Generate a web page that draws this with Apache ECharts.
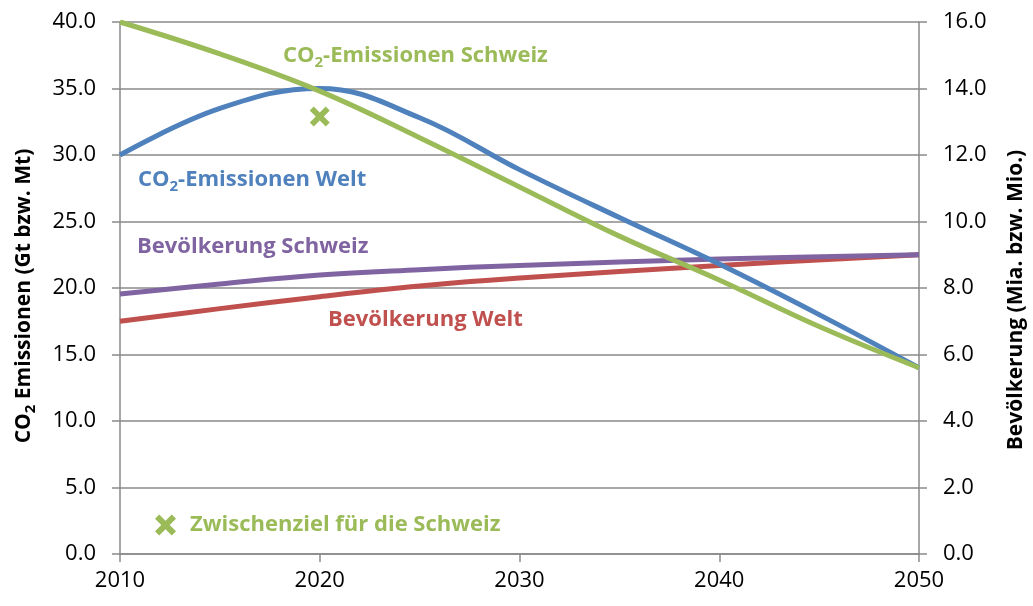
<!DOCTYPE html>
<html>
<head>
<meta charset="utf-8">
<script src="https://cdn.jsdelivr.net/npm/echarts@6/dist/echarts.min.js"></script>
<style>
  html, body { margin: 0; padding: 0; background: #fff; }
  #chart { width: 1033px; height: 606px; }
</style>
</head>
<body>
<div id="chart"></div>
<script>
// CO2 Emissionen (linke Achse)
const co2Welt = [
  [2010, 30.0], [2015, 33.5], [2020, 35.0], [2025, 32.8], [2030, 28.9],
  [2035, 25.3], [2040, 21.8], [2045, 18.0], [2050, 14.0]
]
const co2Schweiz = [
  [2010, 40.0], [2015, 37.6], [2020, 34.8], [2025, 31.3], [2030, 27.6],
  [2035, 23.9], [2040, 20.6], [2045, 17.1], [2050, 14.0]
]
const zwischenziel = [[2020, 32.9]]
// Bevoelkerung (rechte Achse)
const bevSchweiz = [
  [2010, 7.82], [2015, 8.12], [2020, 8.39], [2025, 8.55], [2030, 8.68],
  [2040, 8.87], [2050, 9.0]
]
const bevWelt = [
  [2010, 7.0], [2015, 7.38], [2020, 7.74], [2025, 8.06], [2030, 8.3],
  [2040, 8.68], [2050, 9.0]
]

const GREEN = '#9bbb59'
const BLUE = '#4f81bd'
const RED = '#c0504d'
const PURPLE = '#8064a2'
const GRID = '#8a8a8a'
const FONT = "'Open Sans', sans-serif"
const crossPath = 'path://M2,0 L5,3 L8,0 L10,2 L7,5 L10,8 L8,10 L5,7 L2,10 L0,8 L3,5 L0,2 Z'

const chart = echarts.init(document.getElementById('chart'))

const subRich = (color, size) => ({
  a: { fontFamily: FONT, fontWeight: 'bold', fontSize: size, color },
  s: { fontFamily: FONT, fontWeight: 'bold', fontSize: Math.round(size * 0.7), color, padding: [Math.round(size * 0.6), 0, 0, 0] }
})

const label = (text, x, y, color) => ({
  type: 'text',
  x, y,
  style: { text, fill: color, font: `bold 22px ${FONT}`, verticalAlign: 'middle', rich: subRich(color, 22) }
})

const yAxisCommon = {
  type: 'value',
  axisLine: { show: true, lineStyle: { color: GRID, width: 1.5 } },
  axisTick: { show: true, length: 8, lineStyle: { color: GRID, width: 1.5 } },
  axisLabel: { color: '#000', fontSize: 22, fontFamily: FONT, margin: 24, formatter: (v) => v.toFixed(1) },
  splitLine: { show: true, lineStyle: { color: GRID, width: 1.5 } }
}

const curve = { type: 'line', smooth: 0.4, showSymbol: false }

chart.setOption({
  animation: false,
  grid: { left: 120, right: 114, top: 22, bottom: 52 },
  legend: {
    data: [{ name: 'Zwischenziel für die Schweiz', icon: crossPath }],
    left: 150, top: 509,
    itemWidth: 21, itemHeight: 21,
    textStyle: { color: GREEN, fontSize: 22, fontWeight: 'bold', fontFamily: FONT, padding: [0, 0, 0, 9] }
  },
  xAxis: {
    type: 'value',
    min: 2010, max: 2050, interval: 10,
    axisLine: { show: true, onZero: false, lineStyle: { color: GRID, width: 1.5 } },
    axisTick: { show: true, length: 8, lineStyle: { color: GRID, width: 1.5 } },
    axisLabel: { color: '#000', fontSize: 22, fontFamily: FONT, margin: 16, formatter: (v) => String(v) },
    splitLine: { show: false }
  },
  yAxis: [
    { ...yAxisCommon, min: 0, max: 40, interval: 5, position: 'left' },
    { ...yAxisCommon, min: 0, max: 16, interval: 2, position: 'right', splitLine: { show: false } }
  ],
  series: [
    { ...curve, name: 'Bevölkerung Welt', yAxisIndex: 1, data: bevWelt, lineStyle: { color: RED, width: 5 } },
    { ...curve, name: 'Bevölkerung Schweiz', yAxisIndex: 1, data: bevSchweiz, lineStyle: { color: PURPLE, width: 5 } },
    { ...curve, name: 'CO2-Emissionen Welt', data: co2Welt, lineStyle: { color: BLUE, width: 5 } },
    { ...curve, name: 'CO2-Emissionen Schweiz', data: co2Schweiz, lineStyle: { color: GREEN, width: 5 } },
    { name: 'Zwischenziel für die Schweiz', type: 'scatter', data: zwischenziel,
      symbol: crossPath, symbolSize: 20, itemStyle: { color: GREEN, opacity: 1 } }
  ],
  graphic: [
    label('{a|CO}{s|2}{a|-Emissionen Schweiz}', 283, 56, GREEN),
    label('{a|CO}{s|2}{a|-Emissionen Welt}', 138, 180, BLUE),
    label('{a|Bevölkerung Schweiz}', 137, 247, PURPLE),
    label('{a|Bevölkerung Welt}', 328, 320, RED),
    {
      type: 'text', x: 24, y: 296, rotation: Math.PI / 2,
      style: {
        text: '{a|CO}{s|2}{a| Emissionen (Gt bzw. Mt)}', align: 'center', verticalAlign: 'middle',
        rich: subRich('#000', 21)
      }
    },
    {
      type: 'text', x: 1016, y: 300, rotation: Math.PI / 2,
      style: {
        text: 'Bevölkerung (Mia. bzw. Mio.)', align: 'center', verticalAlign: 'middle',
        fill: '#000', font: `bold 21px ${FONT}`
      }
    }
  ]
})
</script>
</body>
</html>
